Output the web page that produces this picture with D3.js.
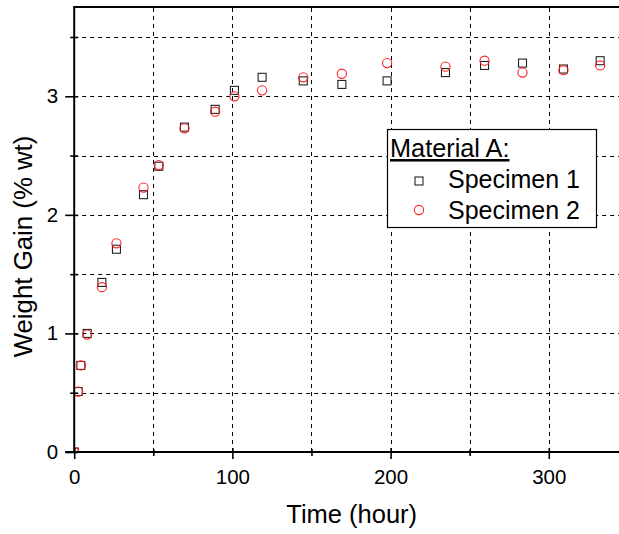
<!DOCTYPE html>
<html><head><meta charset="utf-8">
<script src="https://cdn.jsdelivr.net/npm/d3@7"></script>
<style>body{margin:0;background:#fff}svg{display:block;font-family:"Liberation Sans",Arial,sans-serif}</style>
</head><body>
<script>
const time = [0, 2.5, 4.2, 8.2, 17.5, 26.7, 43.8, 53.5, 69.7, 89.1, 101.3, 118.8, 144.8, 169.2, 197.8, 234.7, 259.4, 283.4, 309.3, 332.5];
const specimen1 = [0, 0.51, 0.73, 1.00, 1.43, 1.71, 2.17, 2.41, 2.74, 2.89, 3.05, 3.16, 3.13, 3.10, 3.13, 3.20, 3.26, 3.28, 3.23, 3.30];
const specimen2 = [0, 0.51, 0.73, 0.99, 1.39, 1.76, 2.23, 2.42, 2.73, 2.87, 3.00, 3.05, 3.16, 3.19, 3.28, 3.25, 3.30, 3.20, 3.22, 3.26];
const xMajor = [0, 100, 200, 300];
const xMinor = [50, 150, 250];
const yMajor = [0, 1, 2, 3];
const yMinor = [0.5, 1.5, 2.5, 3.5];
const seriesNames = ["Specimen 1", "Specimen 2"];
const legendTitle = "Material A:";

const W = 619, H = 534;
const FONT = '"Liberation Sans",Arial,sans-serif';
const svg = d3.select("body").append("svg").attr("width", W).attr("height", H);
const x = d3.scaleLinear().domain([0, 344.4]).range([74.2, 619]);
const y = d3.scaleLinear().domain([0, 3.753]).range([452, 7]);

// grid
const grid = svg.append("g").attr("stroke", "#000").attr("stroke-width", 1).attr("stroke-dasharray", "4,4");
xMajor.concat(xMinor).filter(v => v > 0).forEach(v => {
  grid.append("line").attr("x1", Math.round(x(v)) + 0.5).attr("x2", Math.round(x(v)) + 0.5).attr("y1", y(0)).attr("y2", 7);
});
yMajor.concat(yMinor).filter(v => v > 0).forEach(v => {
  grid.append("line").attr("y1", Math.round(y(v)) + 0.5).attr("y2", Math.round(y(v)) + 0.5).attr("x1", x(0)).attr("x2", W);
});

// data
svg.append("clipPath").attr("id", "clip").append("rect")
  .attr("x", x(0)).attr("y", 7).attr("width", W - x(0)).attr("height", y(0) - 7);
const pts = svg.append("g").attr("clip-path", "url(#clip)");
pts.selectAll("rect.s1").data(time.map((t, i) => [t, specimen1[i]])).join("rect")
  .attr("class", "s1")
  .attr("x", d => x(d[0]) - 4).attr("y", d => y(d[1]) - 4).attr("width", 8).attr("height", 8)
  .attr("fill", "none").attr("stroke", "#222").attr("stroke-width", 1.1);
pts.selectAll("circle.s2").data(time.map((t, i) => [t, specimen2[i]])).join("circle")
  .attr("class", "s2")
  .attr("cx", d => x(d[0])).attr("cy", d => y(d[1])).attr("r", 4.6)
  .attr("fill", "none").attr("stroke", "#ff2020").attr("stroke-width", 1.1);

// axes
const xAxis = svg.append("g").attr("transform", `translate(0,${y(0)})`)
  .call(d3.axisBottom(x).tickValues(xMajor).tickFormat(d3.format("d")).tickSize(7).tickPadding(10));
xAxis.selectAll(".tick line").attr("y1", -4);
const xMin = svg.append("g").attr("transform", `translate(0,${y(0)})`)
  .call(d3.axisBottom(x).tickValues(xMinor).tickFormat("").tickSize(4));
xMin.select(".domain").remove();
xMin.selectAll(".tick line").attr("y1", -3);
const yAxis = svg.append("g").attr("transform", `translate(${x(0)},0)`)
  .call(d3.axisLeft(y).tickValues(yMajor).tickFormat(d3.format("d")).tickSize(9).tickPadding(7));
yAxis.selectAll(".tick line").attr("x1", 4);
const yMin = svg.append("g").attr("transform", `translate(${x(0)},0)`)
  .call(d3.axisLeft(y).tickValues(yMinor).tickFormat("").tickSize(4));
yMin.select(".domain").remove();
yMin.selectAll(".tick line").attr("x1", 4);
svg.selectAll(".domain").attr("stroke-width", 2);
svg.selectAll(".tick line").attr("stroke-width", 1.6);
svg.selectAll(".tick text").attr("font-size", 20.5).attr("font-family", FONT).attr("fill", "#000");
xAxis.select(".domain").attr("d", `M${x(0) - 9},0H${W}`);
yAxis.select(".domain").attr("d", `M0,${y(0) + 1}V7`);
// top border
svg.append("line").attr("x1", x(0) - 1).attr("x2", W).attr("y1", 7).attr("y2", 7).attr("stroke", "#000").attr("stroke-width", 2);

// axis titles
svg.append("text").attr("x", 351.7).attr("y", 523).attr("text-anchor", "middle").attr("font-size", 25.5).text("Time (hour)");
svg.append("text").attr("transform", "translate(32,246.5) rotate(-90)").attr("text-anchor", "middle").attr("font-size", 25.8).text("Weight Gain (% wt)");

// legend
const lg = svg.append("g");
lg.append("rect").attr("x", 387.5).attr("y", 129.5).attr("width", 209).attr("height", 98)
  .attr("fill", "#fff").attr("stroke", "#000").attr("stroke-width", 1.2);
lg.append("text").attr("x", 390).attr("y", 157).attr("font-size", 25.3).attr("text-decoration", "underline").text(legendTitle);
lg.append("rect").attr("x", 415).attr("y", 177).attr("width", 8).attr("height", 8)
  .attr("fill", "none").attr("stroke", "#222").attr("stroke-width", 1.1);
lg.append("circle").attr("cx", 419).attr("cy", 210).attr("r", 4.6)
  .attr("fill", "none").attr("stroke", "#ff2020").attr("stroke-width", 1.1);
lg.append("text").attr("x", 448).attr("y", 188).attr("font-size", 25).text(seriesNames[0]);
lg.append("text").attr("x", 448).attr("y", 219).attr("font-size", 25).text(seriesNames[1]);
</script>
</body></html>
